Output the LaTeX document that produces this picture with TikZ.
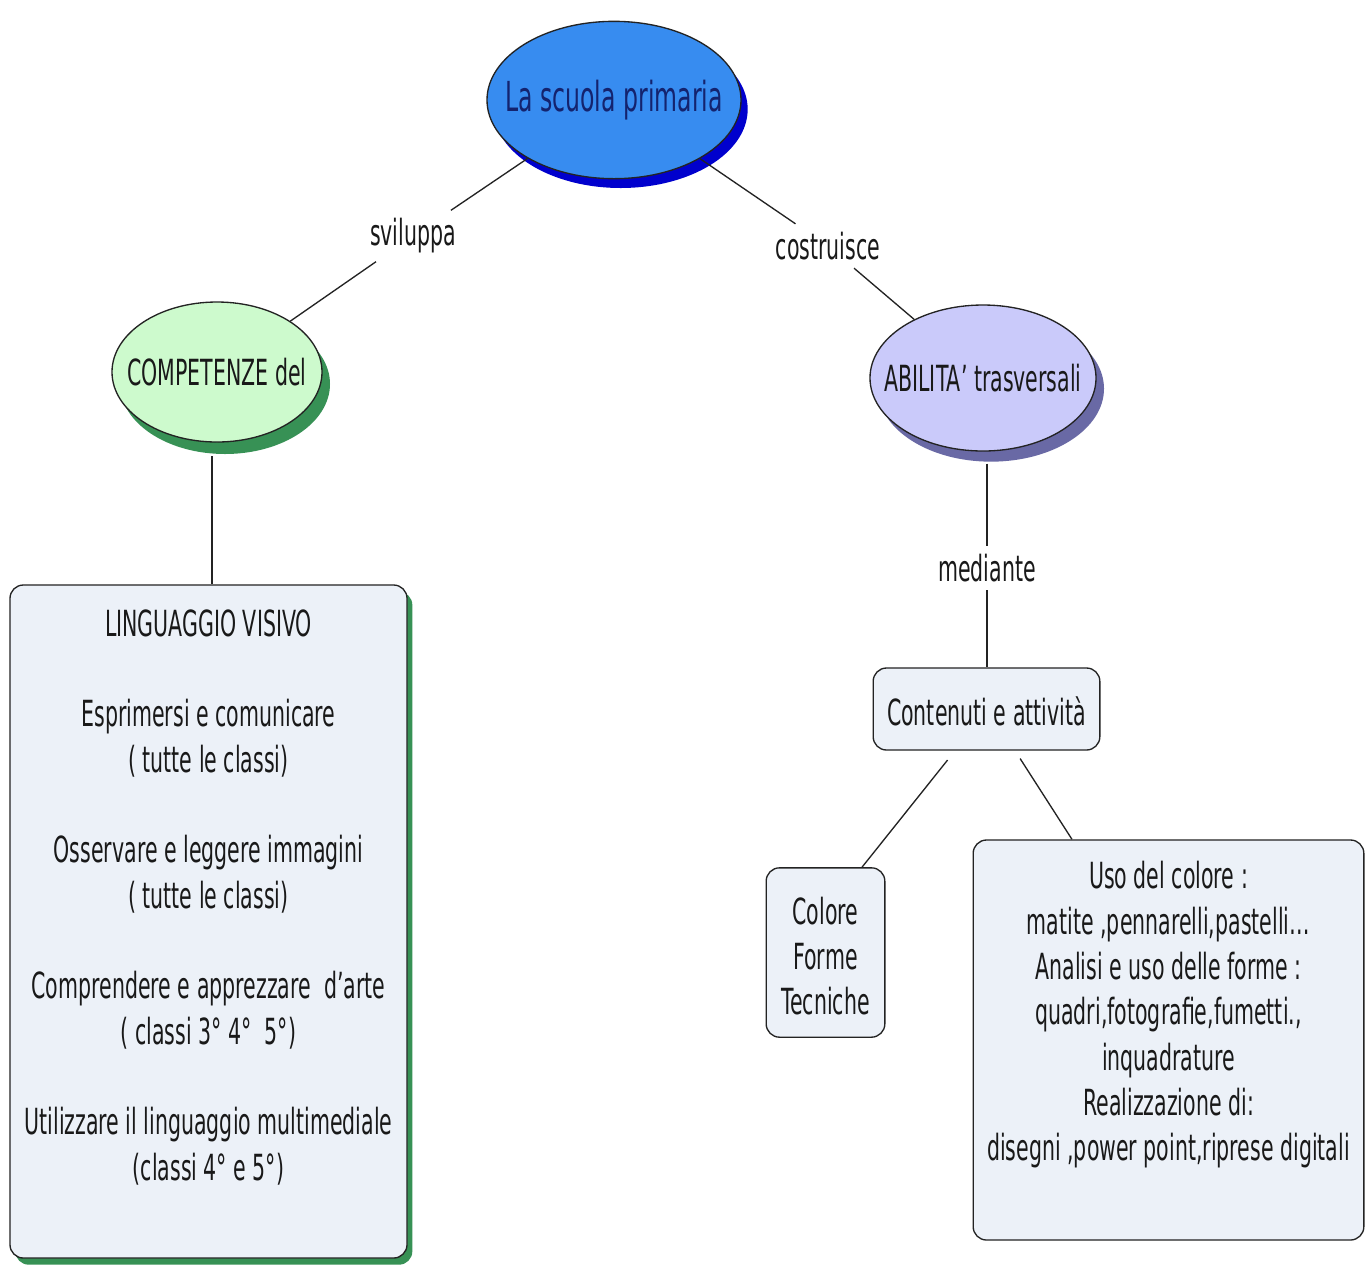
\documentclass[tikz,border=0pt]{standalone}
\usepackage{fontspec}
\setmainfont{DejaVu Sans}[FakeStretch=0.57]
\usetikzlibrary{shapes.geometric,shadows}
\definecolor{topfill}{RGB}{55,140,240}
\definecolor{topshadow}{RGB}{0,0,205}
\definecolor{toptext}{RGB}{20,35,110}
\definecolor{greenfill}{RGB}{205,250,205}
\definecolor{greenshadow}{RGB}{55,145,85}
\definecolor{purplefill}{RGB}{202,202,250}
\definecolor{purpleshadow}{RGB}{105,105,165}
\definecolor{boxfill}{RGB}{236,241,248}
\definecolor{edgecol}{RGB}{35,35,35}
\definecolor{txt}{RGB}{25,25,25}
\tikzset{
  concept/.style={ellipse, draw=edgecol, line width=1pt, inner sep=0pt, text=txt},
  cbox/.style={rectangle, rounded corners=10pt, draw=edgecol, line width=1pt, fill=boxfill, inner sep=0pt, text=txt},
  btext/.style={align=center, text=txt, inner sep=0pt},
  link/.style={draw=edgecol, line width=1pt},
  linklabel/.style={fill=white, inner sep=6pt, text=txt}
}
\begin{document}
\begin{tikzpicture}[x=0.75pt,y=-0.75pt,font=\fontsize{27}{34}\selectfont]
\useasboundingbox[fill=white] (0,0) rectangle (1366,1268);

% concepts
\node[concept, minimum width=190.5pt, minimum height=118pt, fill=topfill, text=toptext,
  drop shadow={shadow xshift=5pt, shadow yshift=-7pt, fill=topshadow, opacity=1},
  font=\fontsize{31}{36}\selectfont] (top) at (614,100) {\makebox[0pt][c]{La scuola primaria}};
\node[concept, minimum width=157.5pt, minimum height=105pt, fill=greenfill,
  drop shadow={shadow xshift=6pt, shadow yshift=-9pt, fill=greenshadow, opacity=1}] (comp) at (217,372) {\makebox[0pt][c]{COMPETENZE del}};
\node[concept, minimum width=169.5pt, minimum height=109.5pt, fill=purplefill,
  drop shadow={shadow xshift=6pt, shadow yshift=-8pt, fill=purpleshadow, opacity=1}] (abil) at (983,378) {\makebox[0pt][c]{ABILITA’ trasversali}};

% boxes
\node[cbox, minimum width=297.75pt, minimum height=504.75pt,
  drop shadow={shadow xshift=4pt, shadow yshift=-5pt, fill=greenshadow, opacity=1}] (ling) at (208.5,921.5) {};
\node[btext] (lingtext) at (208.5,897) {LINGUAGGIO VISIVO\\[34pt]
Esprimersi e comunicare\\( tutte le classi)\\[34pt]
Osservare e leggere immagini\\( tutte le classi)\\[34pt]
Comprendere e apprezzare\ \ d’arte\\( classi 3° 4°\ \ 5°)\\[34pt]
Utilizzare il linguaggio multimediale\\(classi 4° e 5°)};

\node[cbox, minimum width=170pt, minimum height=61.5pt] (cont) at (986.5,709) {};
\node[btext] (conttext) at (986.5,711) {Contenuti e attività};

\node[cbox, minimum width=89pt, minimum height=127pt] (colore) at (825.5,952.5) {};
\node[btext] (coloretext) at (825.5,956) {Colore\\Forme\\Tecniche};

\node[cbox, minimum width=293pt, minimum height=300pt] (uso) at (1168.5,1040) {};
\node[btext] (usotext) at (1168.5,1015) {Uso del colore :\\matite ,pennarelli,pastelli…\\Analisi e uso delle forme :\\quadri,fotografie,fumetti.,\\inquadrature\\Realizzazione di:\\disegni ,power point,riprese digitali};

% link labels
\node[linklabel] (svil) at (413,236) {sviluppa};
\node[linklabel] (costr) at (828,246) {costruisce};
\node[linklabel] (med) at (987,568) {mediante};

% connectors
\draw[link] (top) -- (svil);
\draw[link] (svil) -- (comp);
\draw[link] (top) -- (costr);
\draw[link] (costr) -- (abil);
\draw[link, shorten <=10pt] ([xshift=-3.75pt]comp.south) -- ([xshift=-3.75pt]comp.south |- ling.north);
\draw[link, shorten <=9pt] (med |- abil.south) -- (med);
\draw[link] (med) -- (med |- cont.north);
\draw[link, shorten <=9pt] ([xshift=-23.6pt]cont.south) -- ([xshift=27.4pt]colore.north);
\draw[link, shorten <=7pt] ([xshift=21.4pt]cont.south) -- ([xshift=-72.4pt]uso.north);
\end{tikzpicture}
\end{document}
